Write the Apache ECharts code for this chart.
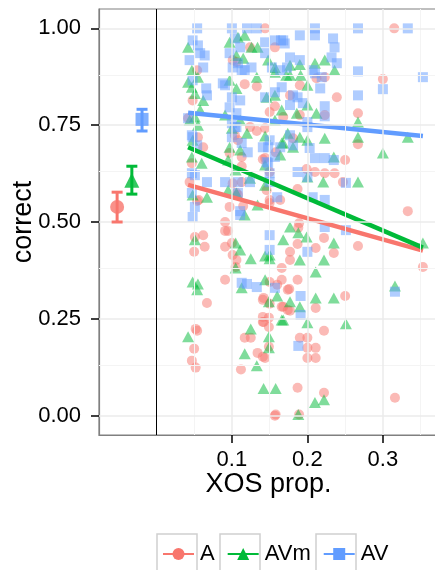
<!DOCTYPE html>
<html lang="en">
<head>
<meta charset="UTF-8">
<title>correct ~ XOS prop.</title>
<script src="https://cdn.jsdelivr.net/npm/echarts@6/dist/echarts.min.js"></script>
<style>
    * { margin: 0; padding: 0; }
    html, body { background: #fff; }
    #main { width: 435px; height: 570px; }
</style>
</head>
<body>
<div id="main"></div>
<script>
var groups = ['A', 'AVm', 'AV'];
var colors = ['#F8766D', '#00BA38', '#619CFF'];
var shapes = ['circle', 'triangle', 'rect'];

// raw points [XOS prop., correct]
var ptsA = [
    [0.042,0.768],[0.055,0.719],[0.062,0.693],[0.047,0.652],[0.044,0.603],[0.054,0.554],[0.056,0.557],
    [0.048,0.814],[0.054,0.892],[0.104,0.724],[0.108,0.711],[0.124,0.745],[0.133,0.735],[0.144,0.742],
    [0.117,0.856],[0.133,0.850],[0.106,0.913],[0.101,0.918],[0.124,0.951],[0.144,1.0],[0.157,0.951],
    [0.157,0.799],[0.150,0.784],[0.097,0.678],[0.113,0.644],[0.113,0.668],[0.141,0.662],[0.150,0.629],
    [0.101,0.600],[0.113,0.603],[0.106,0.575],[0.097,0.539],[0.115,0.541],[0.150,0.549],[0.108,0.570],
    [0.223,0.874],[0.212,0.871],[0.239,0.822],[0.190,0.853],[0.177,0.827],[0.168,0.771],[0.190,0.776],
    [0.223,0.776],[0.181,0.716],[0.158,0.680],[0.144,0.665],[0.250,0.660],[0.199,0.637],[0.210,0.629],
    [0.223,0.626],[0.236,0.626],[0.187,0.585],[0.247,0.603],[0.146,0.582],[0.150,0.557],[0.164,0.557],
    [0.315,1.0],[0.300,0.869],[0.267,0.781],[0.267,0.701],[0.333,0.528],
    [0.091,0.500],[0.051,0.461],[0.062,0.466],[0.050,0.423],[0.064,0.436],[0.091,0.477],[0.095,0.477],
    [0.091,0.436],[0.100,0.446],[0.101,0.415],[0.106,0.402],[0.105,0.384],[0.091,0.351],[0.067,0.291],
    [0.052,0.224],[0.054,0.219],[0.050,0.173],[0.047,0.142],[0.052,0.124],[0.117,0.201],[0.125,0.201],
    [0.134,0.162],[0.141,0.152],[0.112,0.119],[0.141,0.299],[0.141,0.255],[0.141,0.242],[0.149,0.253],
    [0.149,0.229],[0.149,0.178],[0.157,0.0],[0.166,0.381],[0.166,0.351],[0.174,0.325],[0.166,0.281],
    [0.174,0.273],[0.150,0.345],[0.160,0.338],
    [0.189,0.497],[0.188,0.485],[0.222,0.459],[0.211,0.433],[0.235,0.420],[0.177,0.423],[0.177,0.402],
    [0.187,0.443],[0.187,0.351],[0.176,0.327],[0.250,0.309],[0.142,0.304],[0.150,0.289],[0.168,0.281],
    [0.177,0.271],[0.211,0.278],[0.142,0.242],[0.222,0.219],[0.190,0.201],[0.200,0.201],[0.200,0.175],
    [0.211,0.175],[0.200,0.149],[0.211,0.149],[0.144,0.149],[0.187,0.072],[0.222,0.059],[0.158,0.003],
    [0.189,0.003],[0.267,0.438],[0.353,0.384],[0.316,0.046]
];
var ptsAVm = [
    [0.042,0.951],[0.047,0.892],[0.055,0.874],[0.047,0.848],[0.051,0.832],[0.062,0.814],[0.048,0.711],
    [0.058,0.789],[0.051,0.771],[0.097,0.964],[0.108,0.977],[0.117,0.982],[0.126,0.951],[0.134,0.951],
    [0.106,0.930],[0.115,0.923],[0.097,0.866],[0.106,0.845],[0.148,0.918],[0.157,0.899],[0.157,0.887],
    [0.133,0.874],[0.157,0.827],[0.166,0.789],[0.097,0.693],[0.111,0.686],[0.047,0.668],[0.060,0.652],
    [0.048,0.570],[0.067,0.564],[0.095,0.582],[0.106,0.575],[0.144,0.595],[0.166,0.704],[0.174,0.729],
    [0.144,0.647],[0.100,0.742],[0.111,0.763],[0.091,0.776],[0.120,0.729],[0.044,0.763],[0.055,0.750],
    [0.042,0.861],[0.095,0.660],[0.105,0.634],[0.124,0.613],[0.134,0.544],[0.117,0.518],
    [0.146,0.822],[0.177,0.905],[0.190,0.907],[0.172,0.879],[0.210,0.910],[0.223,0.918],[0.236,0.892],
    [0.177,0.879],[0.191,0.879],[0.200,0.853],[0.212,0.781],[0.267,0.758],[0.267,0.719],[0.333,0.719],
    [0.300,0.678],[0.235,0.668],[0.223,0.716],[0.190,0.719],[0.200,0.711],[0.181,0.693],[0.168,0.704],
    [0.221,0.603],[0.267,0.603],[0.200,0.616],[0.164,0.673],[0.144,0.722],[0.186,0.781],[0.200,0.802],
    [0.157,0.763],
    [0.048,0.345],[0.055,0.340],[0.054,0.325],[0.051,0.454],[0.042,0.204],[0.105,0.446],[0.111,0.428],
    [0.105,0.381],[0.125,0.405],[0.113,0.330],[0.125,0.224],[0.149,0.204],[0.117,0.160],[0.133,0.129],
    [0.142,0.070],[0.158,0.070],[0.150,0.405],[0.144,0.351],[0.149,0.294],[0.166,0.247],[0.160,0.309],
    [0.149,0.175],[0.168,0.454],[0.144,0.412],[0.150,0.415],
    [0.177,0.487],[0.188,0.472],[0.199,0.461],[0.211,0.371],[0.222,0.402],[0.235,0.446],[0.190,0.402],
    [0.177,0.294],[0.168,0.247],[0.190,0.281],[0.200,0.240],[0.211,0.304],[0.235,0.304],[0.251,0.237],
    [0.316,0.335],[0.353,0.446],[0.210,0.034],[0.222,0.041],[0.188,0.003]
];
var ptsAV = [
    [0.054,1.0],[0.048,0.969],[0.055,0.956],[0.058,0.936],[0.044,0.918],[0.062,0.899],[0.048,0.866],
    [0.067,0.827],[0.042,0.768],[0.048,0.719],[0.054,0.698],[0.047,0.626],[0.067,0.603],[0.047,0.575],
    [0.051,0.539],[0.064,0.930],[0.066,0.845],[0.047,0.724],[0.051,0.621],
    [0.100,1.0],[0.120,1.0],[0.133,1.0],[0.104,0.974],[0.111,0.951],[0.108,0.910],[0.117,0.892],
    [0.126,0.899],[0.091,0.853],[0.100,0.822],[0.111,0.814],[0.097,0.796],[0.106,0.781],[0.104,0.745],
    [0.144,0.964],[0.157,0.969],[0.170,0.961],[0.144,0.936],[0.153,0.899],[0.164,0.892],[0.173,0.899],
    [0.144,0.822],[0.166,0.848],[0.100,0.719],[0.113,0.704],[0.148,0.693],[0.157,0.668],[0.121,0.680],
    [0.148,0.652],[0.150,0.626],[0.091,0.603],[0.108,0.603],[0.124,0.603],[0.108,0.575],[0.150,0.603],
    [0.097,0.936],[0.088,0.858],[0.101,0.899],[0.113,0.892],[0.100,0.755],[0.106,0.745],[0.111,0.528],
    [0.165,0.969],[0.190,0.982],[0.210,1.0],[0.210,0.982],[0.234,0.974],[0.236,0.951],[0.177,0.925],
    [0.190,0.918],[0.207,0.892],[0.232,0.925],[0.239,0.910],[0.157,0.835],[0.181,0.827],[0.187,0.822],
    [0.210,0.884],[0.219,0.874],[0.217,0.845],[0.177,0.802],[0.194,0.807],[0.200,0.758],[0.177,0.724],
    [0.150,0.711],[0.141,0.693],[0.164,0.693],[0.181,0.698],[0.203,0.691],[0.210,0.665],[0.223,0.665],
    [0.146,0.655],[0.187,0.629],[0.200,0.616],[0.160,0.564],[0.207,0.564],
    [0.267,1.0],[0.333,1.0],[0.168,0.969],[0.267,0.889],[0.353,0.874],[0.300,0.843],[0.267,0.827],
    [0.223,0.799],[0.223,0.773],[0.200,0.745],[0.235,0.660],[0.251,0.601],[0.223,0.557],
    [0.048,0.513],[0.111,0.518],[0.150,0.466],[0.150,0.428],[0.113,0.343],[0.120,0.340],[0.133,0.332],
    [0.157,0.330],[0.223,0.487],[0.251,0.479],[0.200,0.423],[0.191,0.309],[0.191,0.260],[0.188,0.180],
    [0.316,0.320]
];

// linear fits, [x, y] at the ends
var fitA = [[0.042, 0.596], [0.353, 0.426]];
var fitAVm = [[0.042, 0.693], [0.353, 0.434]];
var fitAV = [[0.042, 0.782], [0.353, 0.722]];

// group means with error bars: [x, mean, low, high]
var sumA = [-0.052, 0.539, 0.500, 0.577];
var sumAVm = [-0.0325, 0.608, 0.572, 0.644];
var sumAV = [-0.019, 0.765, 0.735, 0.791];

var yTicks = [0, 0.25, 0.5, 0.75, 1];
var yMinor = [0.125, 0.375, 0.625, 0.875];
var xTicks = [0.1, 0.2, 0.3];
var xMinor = [0.05, 0.15, 0.25, 0.35];

var pts = [ptsA, ptsAVm, ptsAV];
var fits = [fitA, fitAVm, fitAV];
var sums = [sumA, sumAVm, sumAV];

var font = 'Liberation Sans, Arial, Helvetica, sans-serif';
var myChart = echarts.init(document.getElementById('main'));

// grid lines of the panel
var gridLines = [];
yMinor.forEach(function (v) {
    gridLines.push({ yAxis: v, lineStyle: { color: '#f4f4f4', width: 1, type: 'solid' } });
});
xMinor.forEach(function (v) {
    gridLines.push({ xAxis: v, lineStyle: { color: '#f4f4f4', width: 1, type: 'solid' } });
});
yTicks.forEach(function (v) {
    gridLines.push({ yAxis: v, lineStyle: { color: '#ebebeb', width: 1.5, type: 'solid' } });
});
xTicks.forEach(function (v) {
    gridLines.push({ xAxis: v, lineStyle: { color: '#ebebeb', width: 1.5, type: 'solid' } });
});
gridLines.push({ xAxis: 0, lineStyle: { color: '#000', width: 1, type: 'solid' } });

var series = [];
// fit lines first so the legend takes its icon from them
groups.forEach(function (g, i) {
    series.push({
        name: g,
        type: 'line',
        data: fits[i],
        symbol: shapes[i],
        showSymbol: false,
        lineStyle: { color: colors[i], width: 4.5 },
        itemStyle: { color: colors[i] },
        z: 4,
        silent: true
    });
});
series.push({
    type: 'line',
    data: [],
    silent: true,
    z: 1,
    markLine: {
        silent: true,
        symbol: ['none', 'none'],
        label: { show: false },
        animation: false,
        data: gridLines
    }
});
groups.forEach(function (g, i) {
    series.push({
        name: g,
        type: 'scatter',
        data: pts[i],
        symbol: shapes[i],
        symbolSize: i === 1 ? [12, 11] : 10,
        itemStyle: { color: colors[i], opacity: 0.5 },
        z: 2
    });
});
groups.forEach(function (g, i) {
    series.push({
        name: g,
        type: 'custom',
        data: [sums[i]],
        z: 5,
        renderItem: function (params, api) {
            var top = api.coord([api.value(0), api.value(3)]);
            var bot = api.coord([api.value(0), api.value(2)]);
            var st = { stroke: colors[i], lineWidth: 3 };
            return {
                type: 'group',
                children: [
                    { type: 'line', shape: { x1: top[0], y1: top[1], x2: bot[0], y2: bot[1] }, style: st },
                    { type: 'line', shape: { x1: top[0] - 5.5, y1: top[1], x2: top[0] + 5.5, y2: top[1] }, style: st },
                    { type: 'line', shape: { x1: bot[0] - 5.5, y1: bot[1], x2: bot[0] + 5.5, y2: bot[1] }, style: st }
                ]
            };
        }
    });
    series.push({
        name: g,
        type: 'scatter',
        data: [[sums[i][0], sums[i][1]]],
        symbol: shapes[i],
        symbolSize: i === 1 ? 15 : (i === 2 ? 13 : 14),
        itemStyle: { color: colors[i] },
        z: 6
    });
});

var option = {
    animation: false,
    backgroundColor: '#fff',
    textStyle: { fontFamily: font },
    grid: {
        left: 99, top: 9, right: -3, bottom: 135,
        containLabel: false,
        outerBoundsMode: 'none',
        show: true, borderColor: '#808080', borderWidth: 1.2, backgroundColor: '#fff'
    },
    xAxis: {
        type: 'value',
        min: -0.076, max: 0.373,
        name: 'XOS prop.',
        nameLocation: 'middle',
        nameGap: 36,
        nameMoveOverlap: false,
        nameTextStyle: { fontSize: 27, color: '#000', fontFamily: font },
        axisLine: { show: true, onZero: false, lineStyle: { color: '#808080', width: 1.2 } },
        splitLine: { show: false },
        axisTick: { show: true, length: 8, lineStyle: { color: '#000', width: 1.5 }, customValues: xTicks },
        axisLabel: {
            fontSize: 22, color: '#000', fontFamily: font, margin: 14,
            customValues: xTicks,
            formatter: function (v) { return v.toFixed(1); }
        }
    },
    yAxis: {
        type: 'value',
        min: -0.05, max: 1.05,
        name: 'correct',
        nameLocation: 'middle',
        nameGap: 62,
        nameMoveOverlap: false,
        nameTextStyle: { fontSize: 27, color: '#000', fontFamily: font },
        axisLine: { show: true, onZero: false, lineStyle: { color: '#808080', width: 1.2 } },
        splitLine: { show: false },
        axisTick: { show: true, length: 8, lineStyle: { color: '#000', width: 1.5 }, customValues: yTicks },
        axisLabel: {
            fontSize: 22, color: '#000', fontFamily: font, margin: 18,
            customValues: yTicks,
            formatter: function (v) { return v.toFixed(2); }
        }
    },
    legend: {
        data: groups,
        left: 162,
        top: 543,
        padding: 0,
        itemWidth: 31,
        itemHeight: 15,
        itemGap: 12,
        textStyle: { fontSize: 22, color: '#000', fontFamily: font, padding: [0, 0, 0, 1] }
    },
    graphic: [
        { type: 'rect', shape: { x: 157, y: 534, width: 40, height: 45 }, style: { fill: 'none', stroke: '#d0d0d0', lineWidth: 1.5 }, z: -1 },
        { type: 'rect', shape: { x: 220, y: 534, width: 40, height: 45 }, style: { fill: 'none', stroke: '#d0d0d0', lineWidth: 1.5 }, z: -1 },
        { type: 'rect', shape: { x: 316, y: 534, width: 40, height: 45 }, style: { fill: 'none', stroke: '#d0d0d0', lineWidth: 1.5 }, z: -1 }
    ],
    series: series
};

myChart.setOption(option);
</script>
</body>
</html>
